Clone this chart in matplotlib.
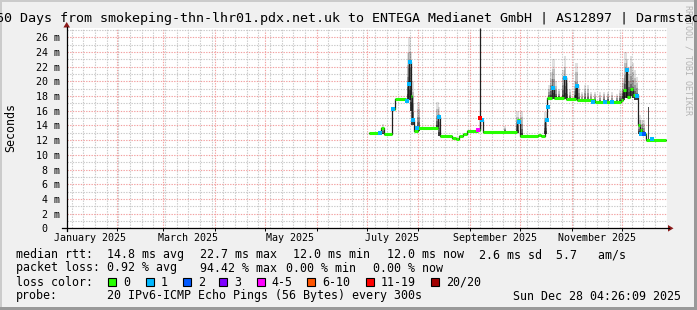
import matplotlib
matplotlib.use('Agg')
import matplotlib.pyplot as plt
import matplotlib.dates as mdates
from matplotlib.patches import Rectangle, Polygon
import pandas as pd

MONO = 'DejaVu Sans Mono'

title = ("360 Days from smokeping-thn-lhr01.pdx.net.uk to ENTEGA Medianet GmbH"
         " | AS12897 | Darmstadt")

t_start = pd.Timestamp('2025-01-02 04:26:09')
t_end = pd.Timestamp('2025-12-28 04:26:09')

# median rtt in ms, step changes (value holds until next time)
med_t = ['2025-07-02 14:00', '2025-07-09 14:00', '2025-07-11 10:00', '2025-07-16 09:00',
         '2025-07-17 17:00', '2025-07-24 14:00', '2025-07-26 00:00', '2025-07-26 14:00',
         '2025-07-27 07:00', '2025-07-28 05:00', '2025-07-29 10:00', '2025-07-31 19:00',
         '2025-08-12 12:00', '2025-08-14 00:00', '2025-08-21 05:00', '2025-08-23 14:00',
         '2025-08-25 10:00', '2025-08-27 19:00', '2025-08-30 05:00', '2025-09-06 02:00',
         '2025-09-07 00:00', '2025-09-07 19:00', '2025-09-08 19:00', '2025-09-29 05:00',
         '2025-09-30 17:00', '2025-10-11 19:00', '2025-10-13 14:00', '2025-10-16 05:00',
         '2025-10-17 10:00', '2025-10-20 10:00', '2025-10-21 10:00', '2025-10-27 14:00',
         '2025-10-28 12:00', '2025-11-03 12:00', '2025-11-04 10:00', '2025-11-15 00:00',
         '2025-11-30 14:00', '2025-12-02 00:00', '2025-12-03 07:00', '2025-12-04 10:00',
         '2025-12-05 17:00', '2025-12-08 02:00', '2025-12-10 19:00', '2025-12-12 00:00',
         '2025-12-13 05:00', '2025-12-15 07:00', '2025-12-27 07:00']
med_v = [13.0, 13.6, 12.8, 16.3, 17.6, 17.3, 19.6, 22.7, 18.0, 14.7,
         13.2, 13.6, 15.2, 12.5, 12.3, 12.1, 12.5, 12.9, 13.2, 13.4,
         15.0, 14.7, 13.1, 14.7, 12.5, 12.7, 12.5, 14.7, 17.7, 19.1,
         17.8, 20.6, 17.6, 19.3, 17.4, 17.2, 17.5, 18.8, 21.5, 17.9,
         18.9, 18.1, 14.1, 13.4, 12.9, 12.0, 12.0]

# bins with packet loss (colored median points)
loss_t = ['2025-07-09 00:00', '2025-07-17 00:00', '2025-07-25 00:00', '2025-07-26 10:00',
          '2025-07-27 00:00', '2025-07-29 00:00', '2025-07-31 10:00', '2025-08-13 10:00',
          '2025-09-06 00:00', '2025-09-07 00:00', '2025-09-08 00:00', '2025-09-30 14:00',
          '2025-10-17 00:00', '2025-10-17 19:00', '2025-10-20 14:00', '2025-10-27 19:00',
          '2025-11-03 22:00', '2025-11-14 00:00', '2025-11-21 00:00', '2025-11-25 00:00',
          '2025-12-03 22:00', '2025-12-10 00:00', '2025-12-12 14:00', '2025-12-14 14:00',
          '2025-12-19 00:00']
loss_v = [13.0, 16.3, 17.3, 19.6, 22.6, 14.7, 13.6, 15.2,
          13.4, 15.0, 14.7, 14.4, 14.7, 16.5, 19.1, 20.5,
          19.3, 17.2, 17.2, 17.2, 21.5, 18.0, 12.9, 12.9, 12.1]
loss_n = ['1', '1', '1', '1', '1', '1', '1', '1',
          '4-5', '11-19', '1', '1', '1', '1', '1', '1',
          '1', '1', '1', '1', '1', '1', '1', '2', '1']

# single sample reaching off the top
spike_t = ['2025-09-06 20:00']
spike_lo = [13.4]
spike_hi = [27.2]

# smoke (spread of the 20 pings) per bin
smoke_t = ['2025-07-10 19:00', '2025-07-25 19:00', '2025-07-26 17:00', '2025-07-27 14:00',
           '2025-07-28 12:00', '2025-08-01 02:00', '2025-08-12 12:00', '2025-08-13 10:00',
           '2025-09-22 00:00', '2025-09-29 12:00', '2025-10-01 22:00', '2025-10-16 07:00',
           '2025-10-18 10:00', '2025-10-19 22:00', '2025-10-21 02:00', '2025-10-22 14:00',
           '2025-10-24 10:00', '2025-10-27 02:00', '2025-10-28 00:00', '2025-10-29 05:00',
           '2025-10-31 00:00', '2025-11-03 00:00', '2025-11-03 22:00', '2025-11-05 10:00',
           '2025-11-07 05:00', '2025-11-09 00:00', '2025-11-10 19:00', '2025-11-12 14:00',
           '2025-11-15 00:00', '2025-11-18 00:00', '2025-11-20 10:00', '2025-11-22 19:00',
           '2025-11-25 05:00', '2025-11-28 05:00', '2025-11-30 07:00', '2025-12-02 02:00',
           '2025-12-03 07:00', '2025-12-04 05:00', '2025-12-05 10:00', '2025-12-06 14:00',
           '2025-12-07 19:00', '2025-12-09 00:00', '2025-12-10 05:00', '2025-12-11 17:00',
           '2025-12-12 22:00', '2025-12-14 02:00']
smoke_lo = [12.8, 17.3, 17.5, 16.0, 14.0, 13.2, 13.5, 12.5, 13.1, 13.0,
            12.5, 12.8, 17.5, 17.6, 17.6, 17.6, 17.6, 17.6, 17.6, 17.4,
            17.4, 17.4, 17.4, 17.2, 17.2, 17.2, 17.2, 17.2, 17.1, 17.1,
            17.1, 17.1, 17.1, 17.1, 17.2, 17.5, 17.8, 17.8, 18.0, 18.0,
            17.8, 17.5, 17.5, 12.8, 12.6, 12.5]
smoke_hi = [14.2, 23.8, 26.1, 24.0, 20.0, 17.2, 17.2, 16.5, 13.9, 15.9,
            16.0, 15.8, 19.5, 21.3, 23.0, 20.0, 19.0, 21.5, 23.4, 20.5,
            19.0, 20.0, 22.5, 19.5, 18.6, 19.5, 19.5, 18.6, 18.6, 18.5,
            18.6, 18.6, 18.5, 18.3, 18.8, 20.5, 24.0, 23.0, 22.0, 23.4,
            22.5, 21.5, 20.6, 15.4, 14.8, 14.8]

dark_t = ['2025-12-17 00:00']
dark_lo = [12.0]
dark_hi = [16.5]

loss_labels = ['0', '1', '2', '3', '4-5', '6-10', '11-19', '20/20']
loss_colors = ['#26ff00', '#00b8ff', '#0059ff', '#7e00ff', '#ff00ff', '#ff5500', '#ff0000', '#a00000']

xlab_text = ['January 2025', 'March 2025', 'May 2025', 'July 2025', 'September 2025', 'November 2025']
xlab_at = ['2025-01-16', '2025-03-16', '2025-05-16', '2025-07-16', '2025-09-16', '2025-11-16']

ymax = 27.22

W, H = 697, 310
fig = plt.figure(figsize=(W / 100, H / 100), dpi=100)
fig.patch.set_facecolor('#f0f0f0')

ax = fig.add_axes([67 / W, (H - 228.3) / H, 600 / W, 200 / H])
ax.set_facecolor('white')
ax.set_xlim(t_start, t_end)
ax.set_ylim(0, ymax)
ax.set_axisbelow(True)
for s in ax.spines.values():
    s.set_visible(False)

ax.set_yticks(range(0, 27, 2))
ax.set_yticks(range(0, 28, 1), minor=True)
ax.set_yticklabels(['0  '] + ['%d m' % v for v in range(2, 27, 2)], family=MONO, fontsize=7.2)
ax.xaxis.set_major_locator(mdates.MonthLocator())
ax.xaxis.set_minor_locator(mdates.WeekdayLocator(byweekday=mdates.SU))
ax.tick_params(axis='y', which='both', length=0, pad=5)
ax.tick_params(axis='x', which='major', length=2, width=0.7, direction='out', labelbottom=False)
ax.tick_params(axis='x', which='minor', length=0)
ax.grid(which='minor', color='#c8c8c8', lw=0.8, ls=(0, (1.2, 1.2)))
ax.grid(which='major', color='#f2a0a0', lw=0.8, ls=(0, (1.2, 1.2)))

for txt, at in zip(xlab_text, xlab_at):
    ax.text(pd.Timestamp(at), -0.047, txt, transform=ax.get_xaxis_transform(),
            ha='center', va='center', family=MONO, fontsize=7.2)

# smoke
st = pd.to_datetime(smoke_t)
for frac, a in [(1.0, 0.12), (0.75, 0.15), (0.5, 0.2), (0.3, 0.3), (0.15, 0.4)]:
    heights = [(h - l) * frac for l, h in zip(smoke_lo, smoke_hi)]
    ax.bar(st, heights, bottom=smoke_lo, width=1.3, color='black', alpha=a, lw=0, zorder=2)
dh = [h - l for l, h in zip(dark_lo, dark_hi)]
ax.bar(pd.to_datetime(dark_t), dh, bottom=dark_lo, width=1.0, color='#4a4a4a', lw=0, zorder=2)

# median
mt = pd.to_datetime(med_t)
ax.step(mt, med_v, where='post', color='#202020', lw=0.9, zorder=3)
ax.vlines(pd.to_datetime(spike_t), spike_lo, spike_hi, color='#202020', lw=0.9, zorder=3)
ax.hlines(med_v[:-1], mt[:-1], mt[1:], color=loss_colors[0], lw=2.2, zorder=4)
lt = pd.to_datetime(loss_t)
for lab, col in zip(loss_labels, loss_colors):
    idx = [i for i, n in enumerate(loss_n) if n == lab]
    if idx:
        ax.plot(lt[idx], [loss_v[i] for i in idx], ls='none', marker='s', ms=2.4,
                mfc=col, mec=col, mew=0, zorder=5)

# overlay in pixel coordinates for frame, axes arrows and legend
ov = fig.add_axes([0, 0, 1, 1], zorder=10)
ov.set_xlim(0, W)
ov.set_ylim(H, 0)
ov.axis('off')
ov.patch.set_alpha(0)

ov.add_patch(Rectangle((0, 0), W, 2, color='#cbcbcb', lw=0))
ov.add_patch(Rectangle((0, 0), 2, H, color='#cbcbcb', lw=0))
ov.add_patch(Rectangle((0, H - 3), W, 3, color='#999999', lw=0))
ov.add_patch(Rectangle((W - 3, 0), 3, H, color='#999999', lw=0))

ov.plot([62, 668.5], [228.3, 228.3], color='black', lw=0.9)
ov.plot([66.7, 66.7], [231, 27], color='black', lw=0.9)
ov.add_patch(Polygon([(668, 225), (673.5, 228.3), (668, 231.6)], closed=True, color='#8b1a1a', lw=0))
ov.add_patch(Polygon([(63.4, 27.5), (66.7, 22), (70, 27.5)], closed=True, color='#8b1a1a', lw=0))

ov.text(688, 60, 'RRDTOOL / TOBI OETIKER', rotation=270, ha='center', va='center',
        family=MONO, fontsize=6, color='#b4b4b4')
ov.text(W / 2, 18.5, title, ha='center', va='center', family=MONO, fontsize=9.6)
ov.text(11, 128, 'Seconds', rotation=90, ha='center', va='center', family=MONO, fontsize=8.4)

fs = 8.4
r1, r2, r3, r4 = 254.7, 268, 282.3, 296
for x, s in [(16, 'median rtt:'), (107.3, '14.8 ms avg'), (200, '22.7 ms max'),
             (293.3, '12.0 ms min'), (386.7, '12.0 ms now'), (479.3, '2.6 ms sd  5.7   am/s')]:
    ov.text(x, r1, s, ha='left', va='center', family=MONO, fontsize=fs)
for x, s in [(16, 'packet loss:'), (107.3, '0.92 % avg'), (200, '94.42 % max'),
             (286, '0.00 % min'), (372.7, '0.00 % now')]:
    ov.text(x, r2, s, ha='left', va='center', family=MONO, fontsize=fs)
ov.text(16, r3, 'loss color:', ha='left', va='center', family=MONO, fontsize=fs)
box_x = [108.3, 145.7, 182.7, 219.3, 256.7, 307.3, 366, 431]
for bx, lab, col in zip(box_x, loss_labels, loss_colors):
    ov.add_patch(Rectangle((bx, r3 - 4.2), 8, 8, facecolor=col, edgecolor='black', lw=0.8))
    ov.text(bx + 15, r3, lab, ha='left', va='center', family=MONO, fontsize=fs)
ov.text(16, r4, 'probe:', ha='left', va='center', family=MONO, fontsize=fs)
ov.text(107.3, r4, '20 IPv6-ICMP Echo Pings (56 Bytes) every 300s', ha='left', va='center',
        family=MONO, fontsize=fs)
ov.text(513.3, r4, 'Sun Dec 28 04:26:09 2025', ha='left', va='center', family=MONO, fontsize=fs)

fig.savefig('out.png', dpi=100, facecolor=fig.get_facecolor())
